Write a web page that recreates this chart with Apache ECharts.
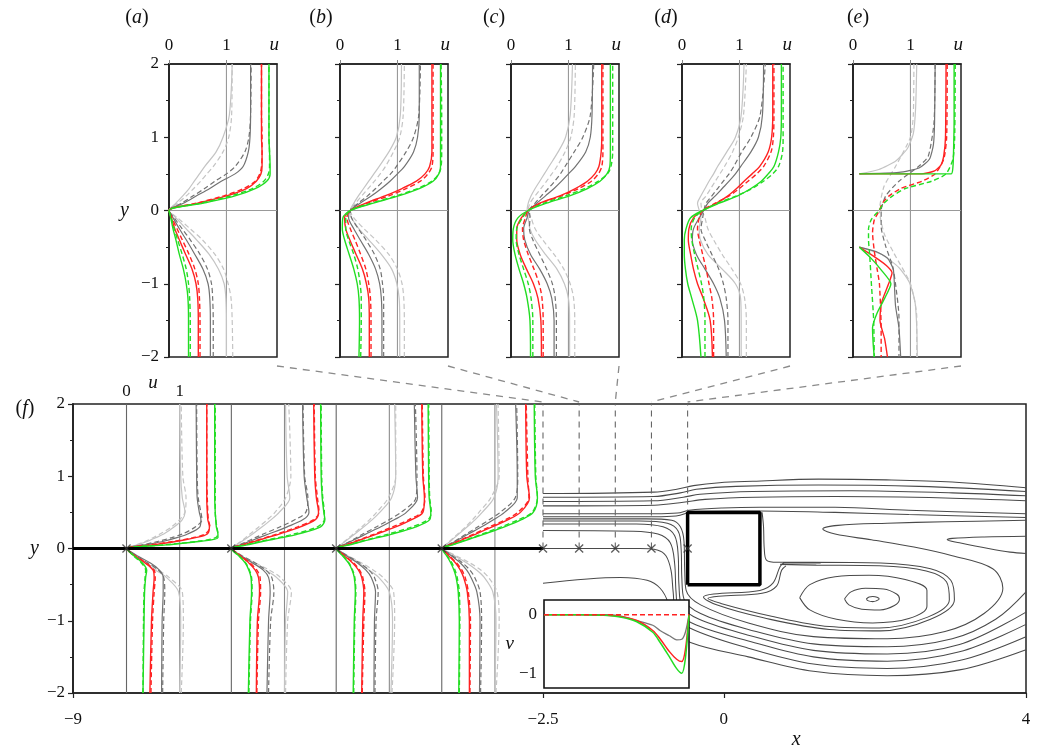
<!DOCTYPE html>
<html><head><meta charset="utf-8">
<script src="https://cdn.jsdelivr.net/npm/echarts@6/dist/echarts.min.js"></script>
<style>html,body{margin:0;padding:0;background:#fff}#c{width:1037px;height:750px}</style>
</head><body><div id="c"></div>
<script>
// ---------------- DATA ----------------
const Y_TOP = [-2,-1.5,-1.2,-1,-0.8,-0.6,-0.4,-0.25,-0.1,0,0.1,0.2,0.3,0.4,0.5,0.6,0.8,1,1.3,2];
// panel (a)
const A_LIGHT   = [1.0,1.0,0.99,0.96,0.86,0.70,0.48,0.30,0.12,0,0.12,0.24,0.35,0.44,0.53,0.62,0.82,0.94,1.05,1.1];
const A_LIGHT_D = [1.11,1.10,1.08,1.03,0.95,0.80,0.58,0.37,0.15,0,0.15,0.3,0.43,0.55,0.66,0.77,0.94,1.04,1.09,1.1];
const A_GRAY    = [0.72,0.72,0.71,0.68,0.59,0.45,0.30,0.18,0.07,0,0.25,0.48,0.71,0.91,1.15,1.29,1.38,1.41,1.42,1.42];
const A_GRAY_D  = [0.77,0.77,0.76,0.74,0.67,0.54,0.37,0.23,0.09,0,0.22,0.42,0.62,0.8,1.0,1.15,1.32,1.39,1.42,1.43];
const A_RED     = [0.51,0.51,0.50,0.47,0.40,0.29,0.18,0.10,0.04,0,0.5,1.0,1.35,1.52,1.6,1.62,1.62,1.61,1.61,1.61];
const A_RED_D   = [0.54,0.54,0.53,0.51,0.45,0.35,0.23,0.14,0.05,0,0.48,0.95,1.3,1.5,1.58,1.61,1.62,1.62,1.61,1.61];
const A_GREEN   = [0.34,0.34,0.33,0.30,0.25,0.18,0.12,0.07,0.03,0,0.6,1.15,1.5,1.7,1.76,1.76,1.75,1.74,1.74,1.74];
const A_GREEN_D = [0.37,0.37,0.36,0.34,0.30,0.23,0.15,0.09,0.04,0,0.55,1.08,1.45,1.65,1.73,1.75,1.75,1.74,1.74,1.74];
// panel (b)
const B_LIGHT   = [1.04,1.04,1.03,0.99,0.90,0.72,0.50,0.33,0.20,0.18,0.24,0.32,0.41,0.5,0.59,0.68,0.85,0.98,1.05,1.07];
const B_LIGHT_D = [1.12,1.12,1.11,1.08,1.00,0.85,0.62,0.42,0.24,0.18,0.27,0.38,0.49,0.6,0.7,0.79,0.93,1.04,1.1,1.12];
const B_GRAY    = [0.73,0.73,0.72,0.69,0.62,0.50,0.35,0.24,0.15,0.18,0.35,0.55,0.72,0.87,1.0,1.12,1.28,1.35,1.38,1.38];
const B_GRAY_D  = [0.76,0.76,0.76,0.74,0.70,0.60,0.45,0.32,0.20,0.18,0.32,0.48,0.62,0.75,0.88,0.98,1.15,1.28,1.37,1.4];
const B_RED     = [0.51,0.51,0.50,0.46,0.39,0.28,0.17,0.10,0.08,0.18,0.45,0.78,1.08,1.33,1.48,1.56,1.6,1.6,1.6,1.6];
const B_RED_D   = [0.54,0.54,0.53,0.50,0.45,0.36,0.26,0.18,0.12,0.18,0.48,0.85,1.15,1.4,1.53,1.6,1.62,1.62,1.62,1.62];
const B_GREEN   = [0.33,0.34,0.33,0.30,0.24,0.16,0.08,0.04,0.05,0.18,0.58,1.02,1.38,1.62,1.72,1.75,1.75,1.75,1.75,1.75];
const B_GREEN_D = [0.36,0.37,0.37,0.35,0.31,0.24,0.15,0.10,0.10,0.18,0.55,0.98,1.35,1.6,1.72,1.76,1.77,1.77,1.77,1.76];
// panel (c)
const C_LIGHT_  = [1.02,1.02,1.0,0.93,0.8,0.6,0.42,0.33,0.3,0.28,0.3,0.35,0.42,0.5,0.58,0.66,0.82,0.95,1.03,1.07];
const C_LIGHT_D = [1.11,1.11,1.09,1.03,0.92,0.75,0.55,0.42,0.35,0.3,0.33,0.42,0.52,0.62,0.71,0.8,0.94,1.04,1.1,1.12];
const C_GRAY_   = [0.75,0.75,0.71,0.63,0.50,0.34,0.24,0.22,0.28,0.32,0.45,0.6,0.75,0.88,1.0,1.12,1.3,1.38,1.41,1.42];
const C_GRAY_D  = [0.79,0.79,0.77,0.72,0.62,0.50,0.38,0.32,0.33,0.32,0.42,0.53,0.65,0.76,0.86,0.94,1.1,1.25,1.38,1.44];
const C_RED_    = [0.53,0.52,0.47,0.39,0.27,0.16,0.10,0.10,0.18,0.3,0.5,0.85,1.12,1.33,1.46,1.53,1.57,1.58,1.58,1.58];
const C_RED_D   = [0.56,0.56,0.54,0.49,0.40,0.30,0.22,0.20,0.25,0.3,0.52,0.88,1.18,1.4,1.52,1.58,1.6,1.6,1.6,1.6];
const C_GREEN_  = [0.34,0.33,0.28,0.22,0.14,0.07,0.03,0.04,0.12,0.3,0.62,1.02,1.33,1.55,1.67,1.72,1.73,1.73,1.73,1.73];
const C_GREEN_D = [0.38,0.38,0.35,0.30,0.22,0.14,0.09,0.10,0.20,0.3,0.58,0.95,1.28,1.52,1.68,1.74,1.77,1.77,1.77,1.77];
// panel (d)
const D_LIGHT   = [1.03,1.03,1.02,0.93,0.70,0.45,0.32,0.30,0.33,0.3,0.27,0.33,0.4,0.47,0.55,0.62,0.78,0.93,1.03,1.08];
const D_LIGHT_D = [1.12,1.12,1.09,1.02,0.87,0.70,0.55,0.45,0.4,0.35,0.33,0.42,0.5,0.58,0.66,0.74,0.88,0.98,1.07,1.12];
const D_GRAY    = [0.77,0.74,0.66,0.55,0.40,0.25,0.18,0.20,0.3,0.38,0.45,0.58,0.7,0.82,0.93,1.02,1.2,1.33,1.4,1.42];
const D_GRAY_D  = [0.80,0.80,0.77,0.72,0.64,0.52,0.40,0.33,0.36,0.38,0.42,0.52,0.62,0.72,0.82,0.9,1.04,1.2,1.36,1.45];
const D_RED     = [0.53,0.49,0.37,0.27,0.20,0.15,0.11,0.12,0.2,0.36,0.6,0.8,0.95,1.08,1.22,1.35,1.5,1.56,1.58,1.58];
const D_RED_D   = [0.55,0.55,0.52,0.47,0.42,0.36,0.30,0.27,0.3,0.36,0.58,0.82,1.0,1.15,1.3,1.42,1.55,1.59,1.6,1.6];
const D_GREEN   = [0.33,0.27,0.17,0.10,0.06,0.04,0.04,0.07,0.15,0.36,0.65,0.97,1.2,1.38,1.5,1.6,1.68,1.72,1.73,1.73];
const D_GREEN_D = [0.40,0.40,0.38,0.34,0.28,0.22,0.17,0.16,0.22,0.36,0.62,0.95,1.22,1.42,1.58,1.68,1.75,1.76,1.76,1.76];
// panel (e): [u, y] pairs
const E_LIGHT_UP = [[0.11,0.5],[0.45,0.56],[0.75,0.68],[0.95,0.85],[1.05,1.05],[1.09,1.4],[1.11,2]];
const E_LIGHT_LO = [[0.11,-0.5],[0.5,-0.6],[0.8,-0.78],[0.98,-0.98],[1.08,-1.25],[1.11,-1.6],[1.12,-2]];
const E_LIGHT_D  = [[1.06,2],[1.05,1.3],[1.0,1.0],[0.74,0.6],[0.54,0.33],[0.46,0],[0.54,-0.31],[0.71,-0.58],[1.0,-1.0],[1.11,-1.45],[1.11,-2]];
const E_GRAY_UP  = [[0.11,0.5],[0.8,0.52],[1.15,0.58],[1.33,0.7],[1.4,0.9],[1.42,1.2],[1.43,2]];
const E_GRAY_LO  = [[0.11,-0.5],[0.4,-0.56],[0.6,-0.65],[0.7,-0.8],[0.72,-1.0],[0.74,-1.3],[0.8,-1.6],[0.83,-2]];
const E_GRAY_D   = [[1.43,2],[1.41,1.2],[1.31,0.74],[1.14,0.6],[0.8,0.4],[0.57,0.2],[0.49,0],[0.49,-0.22],[0.57,-0.49],[0.69,-0.76],[0.74,-1],[0.8,-1.45],[0.8,-2]];
const E_RED_UP   = [[0.11,0.5],[1.2,0.5],[1.42,0.54],[1.53,0.62],[1.58,0.75],[1.61,1.0],[1.62,2]];
const E_RED_LO   = [[0.11,-0.5],[0.35,-0.62],[0.58,-0.75],[0.68,-0.85],[0.62,-1.0],[0.5,-1.25],[0.47,-1.5],[0.55,-1.75],[0.6,-2]];
const E_RED_D    = [[1.64,2],[1.63,1],[1.58,0.7],[1.43,0.5],[1.2,0.4],[0.83,0.3],[0.63,0.2],[0.51,0.1],[0.46,0],[0.37,-0.13],[0.34,-0.3],[0.37,-0.55],[0.42,-0.8],[0.46,-1],[0.49,-1.6],[0.49,-2]];
const E_GREEN_UP = [[0.11,0.5],[1.71,0.5],[1.74,0.6],[1.75,0.8],[1.76,1.2],[1.76,2]];
const E_GREEN_LO = [[0.11,-0.5],[0.3,-0.64],[0.5,-0.82],[0.66,-1.0],[0.55,-1.2],[0.42,-1.4],[0.34,-1.6],[0.35,-1.8],[0.37,-2]];
const E_GREEN_D  = [[1.78,2],[1.77,1],[1.74,0.7],[1.62,0.5],[1.37,0.4],[0.91,0.3],[0.69,0.2],[0.54,0.1],[0.45,0],[0.32,-0.12],[0.27,-0.25],[0.27,-0.4],[0.29,-0.6],[0.32,-1],[0.36,-1.5],[0.37,-2]];

// panel (f) profiles
const F_X0 = [-8.26,-6.81,-5.36,-3.9];
const Y_F = [-2,-1,-0.6,-0.4,-0.3,-0.2,-0.1,-0.05,0,0.05,0.1,0.15,0.2,0.3,0.4,0.5,0.7,1,2];
const F1_LIGHT   = [1.0,1.02,0.98,0.75,0.55,0.35,0.15,0.07,0,0.2,0.4,0.55,0.7,0.9,1.05,1.1,1.05,1.02,1.0];
const F1_LIGHT_D = [1.03,1.07,1.05,0.8,0.6,0.38,0.16,0.08,0,0.18,0.36,0.5,0.63,0.85,1.0,1.1,1.12,1.06,1.03];
const F1_GRAY    = [0.66,0.67,0.69,0.69,0.62,0.45,0.2,0.09,0,0.35,0.7,0.95,1.15,1.38,1.4,1.37,1.33,1.32,1.31];
const F1_GRAY_D  = [0.68,0.7,0.72,0.7,0.6,0.4,0.18,0.08,0,0.3,0.6,0.85,1.05,1.3,1.42,1.4,1.35,1.33,1.32];
const F1_RED     = [0.44,0.47,0.5,0.52,0.5,0.35,0.15,0.06,0,0.5,0.95,1.3,1.52,1.56,1.53,1.52,1.51,1.51,1.51];
const F1_RED_D   = [0.46,0.49,0.52,0.54,0.52,0.37,0.16,0.07,0,0.45,0.9,1.25,1.48,1.57,1.54,1.53,1.52,1.51,1.51];
const F1_GREEN   = [0.31,0.33,0.34,0.36,0.38,0.3,0.14,0.06,0,0.75,1.4,1.72,1.72,1.69,1.68,1.67,1.66,1.66,1.66];
const F1_GREEN_D = [0.31,0.32,0.33,0.35,0.36,0.28,0.13,0.06,0,0.7,1.35,1.68,1.72,1.7,1.68,1.67,1.67,1.67,1.67];
const F2_LIGHT   = [1.0,1.02,1.06,0.85,0.65,0.4,0.15,0.07,0,0.1,0.2,0.3,0.4,0.58,0.75,0.9,1.1,1.05,1.02];
const F2_LIGHT_D = [1.02,1.06,1.13,0.92,0.72,0.45,0.17,0.08,0,0.09,0.18,0.27,0.35,0.52,0.68,0.82,1.02,1.12,1.08];
const F2_GRAY    = [0.67,0.7,0.73,0.7,0.6,0.4,0.18,0.08,0,0.17,0.35,0.52,0.7,1.05,1.35,1.46,1.42,1.37,1.34];
const F2_GRAY_D  = [0.7,0.74,0.8,0.76,0.65,0.45,0.2,0.09,0,0.15,0.3,0.45,0.6,0.92,1.2,1.4,1.44,1.38,1.35];
const F2_RED     = [0.47,0.49,0.53,0.51,0.45,0.33,0.16,0.07,0,0.22,0.45,0.67,0.9,1.3,1.58,1.64,1.6,1.57,1.55];
const F2_RED_D   = [0.48,0.51,0.55,0.54,0.48,0.35,0.17,0.08,0,0.2,0.42,0.64,0.85,1.25,1.55,1.65,1.62,1.58,1.56];
const F2_GREEN   = [0.32,0.35,0.38,0.37,0.33,0.26,0.14,0.05,0,0.3,0.6,0.95,1.25,1.68,1.76,1.74,1.71,1.69,1.68];
const F2_GREEN_D = [0.33,0.36,0.39,0.38,0.34,0.27,0.14,0.06,0,0.27,0.55,0.88,1.18,1.62,1.75,1.75,1.72,1.7,1.69];
const F3_LIGHT   = [1.03,1.06,1.0,0.8,0.62,0.42,0.2,0.1,0,0.08,0.17,0.26,0.35,0.52,0.68,0.82,1.04,1.12,1.1];
const F3_LIGHT_D = [1.05,1.1,1.08,0.88,0.7,0.48,0.22,0.11,0,0.08,0.16,0.24,0.32,0.48,0.63,0.76,0.98,1.12,1.12];
const F3_GRAY    = [0.71,0.72,0.74,0.66,0.56,0.4,0.19,0.09,0,0.14,0.28,0.42,0.56,0.84,1.1,1.32,1.53,1.5,1.47];
const F3_GRAY_D  = [0.73,0.75,0.79,0.72,0.62,0.44,0.21,0.1,0,0.13,0.26,0.38,0.5,0.76,1.0,1.22,1.5,1.52,1.49];
const F3_RED     = [0.48,0.5,0.52,0.48,0.42,0.31,0.15,0.07,0,0.19,0.38,0.57,0.76,1.12,1.42,1.63,1.66,1.63,1.61];
const F3_RED_D   = [0.49,0.52,0.54,0.5,0.44,0.33,0.16,0.08,0,0.18,0.36,0.54,0.72,1.06,1.37,1.6,1.67,1.64,1.62];
const F3_GREEN   = [0.32,0.34,0.36,0.34,0.3,0.23,0.12,0.05,0,0.25,0.5,0.78,1.05,1.5,1.76,1.78,1.75,1.74,1.73];
const F3_GREEN_D = [0.33,0.35,0.37,0.35,0.31,0.24,0.13,0.06,0,0.23,0.47,0.73,0.98,1.43,1.73,1.79,1.76,1.75,1.74];
const F4_LIGHT   = [1.0,1.02,0.96,0.8,0.66,0.47,0.24,0.12,0,0.08,0.16,0.24,0.32,0.48,0.63,0.76,0.98,1.06,1.03];
const F4_LIGHT_D = [1.02,1.08,1.04,0.88,0.74,0.53,0.27,0.13,0,0.07,0.15,0.22,0.3,0.45,0.58,0.7,0.92,1.08,1.06];
const F4_GRAY    = [0.71,0.72,0.66,0.55,0.47,0.35,0.18,0.09,0,0.13,0.26,0.38,0.5,0.75,0.98,1.18,1.42,1.42,1.39];
const F4_GRAY_D  = [0.73,0.75,0.72,0.62,0.53,0.39,0.2,0.1,0,0.12,0.24,0.35,0.46,0.68,0.9,1.1,1.38,1.43,1.41];
const F4_RED     = [0.52,0.52,0.48,0.41,0.35,0.26,0.13,0.06,0,0.16,0.32,0.48,0.64,0.95,1.25,1.48,1.65,1.6,1.58];
const F4_RED_D   = [0.53,0.54,0.5,0.44,0.38,0.28,0.14,0.07,0,0.15,0.3,0.45,0.6,0.9,1.2,1.43,1.64,1.62,1.59];
const F4_GREEN   = [0.32,0.33,0.31,0.27,0.23,0.17,0.09,0.04,0,0.2,0.4,0.6,0.8,1.18,1.5,1.72,1.8,1.76,1.74];
const F4_GREEN_D = [0.33,0.34,0.33,0.29,0.25,0.19,0.1,0.05,0,0.19,0.38,0.57,0.76,1.12,1.45,1.7,1.8,1.77,1.75];

// plate, probe stations, square
const PLATE_X = [-9,-2.5];
const CROSS_X = [-2.5,-2.0,-1.5,-1.0,-0.5];
const SQUARE_X = [-0.5,0.5];
const SQUARE_Y = [-0.5,0.5];

// streamlines [x, y]
const SL_1 = [[-2.5,0.76],[-0.97,0.78],[-0.65,0.82],[-0.42,0.87],[-0.06,0.91],[0.4,0.93],[1.31,0.96],[2.25,0.95],[3.16,0.92],[4.18,0.84]];
const SL_2 = [[-2.5,0.71],[-0.97,0.72],[-0.6,0.77],[-0.38,0.82],[0.17,0.86],[1.31,0.88],[2.7,0.86],[4.18,0.79]];
const SL_3 = [[-2.5,0.65],[-0.97,0.66],[-0.56,0.71],[-0.33,0.75],[0.4,0.79],[1.77,0.8],[3.16,0.77],[4.18,0.73]];
const SL_4 = [[-2.5,0.59],[-0.96,0.6],[-0.56,0.64],[-0.26,0.68],[0.44,0.71],[1.54,0.72],[3.06,0.7],[4.18,0.66]];
const SL_5 = [[-2.5,0.48],[-0.96,0.48],[-0.64,0.49],[-0.48,0.53],[-0.02,0.56],[0.5,0.57],[1.54,0.57],[2.56,0.53],[4.18,0.48]];
const SL_6 = [[-2.5,0.44],[-0.96,0.44],[-0.66,0.45],[-0.54,0.48],[-0.48,0.515],[0.08,0.52],[0.5,0.52],[1.54,0.5],[2.56,0.47],[4.18,0.43]];
const SL_7 = [[-2.5,0.41],[-1.07,0.41],[-0.72,0.39],[-0.6,0.3],[-0.55,0.1],[-0.54,-0.3],[-0.52,-0.58],[-0.32,-0.78],[0.34,-1.03],[1.24,-1.22],[2.26,-1.25],[3.06,-1.15],[3.6,-0.9],[3.86,-0.55],[3.72,-0.28],[3.16,-0.1],[2.63,0.02],[2.04,0.12],[1.54,0.2],[1.37,0.27],[1.58,0.32],[2.26,0.35],[3.06,0.37],[4.18,0.39]];
const SL_8 = [[-2.5,0.38],[-1.16,0.38],[-0.78,0.35],[-0.63,0.24],[-0.59,0],[-0.58,-0.4],[-0.55,-0.7],[-0.32,-0.9],[0.34,-1.12],[1.24,-1.32],[2.26,-1.36],[3.16,-1.25],[3.76,-0.98],[4.18,-0.6]];
const SL_9 = [[-2.5,0.34],[-1.21,0.34],[-0.84,0.3],[-0.68,0.18],[-0.63,-0.1],[-0.62,-0.5],[-0.58,-0.8],[-0.34,-0.98],[0.34,-1.2],[1.24,-1.41],[2.26,-1.46],[3.26,-1.33],[4.18,-0.88]];
const SL_10 = [[-2.5,0.25],[-1.26,0.24],[-0.91,0.2],[-0.74,0.08],[-0.68,-0.2],[-0.66,-0.6],[-0.62,-0.88],[-0.38,-1.06],[0.34,-1.28],[1.24,-1.5],[2.26,-1.56],[3.26,-1.43],[4.18,-1.05]];
const SL_11 = [[-2.5,0],[-1.16,0],[-0.92,-0.02],[-0.8,-0.1],[-0.73,-0.3],[-0.7,-0.6],[-0.66,-0.9],[-0.47,-1.1],[0.34,-1.38],[1.24,-1.6],[2.26,-1.66],[3.26,-1.55],[4.18,-1.22]];
const SL_12 = [[-2.5,-0.48],[-1.43,-0.4],[-1.06,-0.44],[-0.88,-0.55],[-0.77,-0.75],[-0.7,-1.1],[-0.46,-1.3],[0.34,-1.5],[1.24,-1.7],[2.26,-1.76],[3.26,-1.68],[4.18,-1.4]];
const SL_13 = [[0.53,0.5],[0.55,0.3],[0.56,0.0],[0.59,-0.16],[0.74,-0.19],[1.23,-0.19],[2.17,-0.2],[2.86,-0.28],[3.14,-0.44],[3.19,-0.71],[2.86,-0.98],[2.17,-1.14],[1.46,-1.12],[0.55,-0.96],[-0.1,-0.78],[-0.28,-0.67],[-0.14,-0.63],[0.5,-0.58],[0.68,-0.48],[0.78,-0.25],[0.84,-0.2],[1.34,-0.2]];
const SL_14 = [[0.78,-0.22],[1.28,-0.23],[2.15,-0.24],[2.8,-0.31],[3.08,-0.46],[3.12,-0.71],[2.82,-0.95],[2.15,-1.1],[1.46,-1.08],[0.63,-0.93],[-0.04,-0.76],[-0.22,-0.69],[-0.07,-0.66],[0.53,-0.62],[0.73,-0.52],[0.8,-0.3],[0.86,-0.24]];
const SL_15 = [[4.18,0.17],[3.6,0.16],[3.16,0.14],[3.09,0.12],[3.26,0.08],[3.66,0.0],[3.96,-0.05],[4.18,-0.07]];
const EL_1 = [[1.97,-0.7],[2.01,-0.67],[2.06,-0.665],[2.12,-0.675],[2.15,-0.7],[2.11,-0.725],[2.06,-0.735],[2.0,-0.725],[1.97,-0.7]];
const EL_2 = [[1.67,-0.7],[1.76,-0.6],[1.96,-0.55],[2.21,-0.56],[2.39,-0.63],[2.43,-0.7],[2.36,-0.79],[2.16,-0.85],[1.91,-0.84],[1.73,-0.78],[1.67,-0.7]];
const EL_3 = [[1.05,-0.68],[1.19,-0.5],[1.54,-0.39],[2.01,-0.37],[2.51,-0.43],[2.81,-0.58],[2.81,-0.8],[2.56,-0.97],[2.06,-1.03],[1.56,-0.98],[1.19,-0.85],[1.05,-0.68]];

// inset: v along y = 0
const INSET_X = [-2.5,-2.0,-1.68,-1.45,-1.22,-1.0,-0.9,-0.77,-0.67,-0.6,-0.55,-0.5];
const V_GRAY  = [0,0,0,-0.02,-0.1,-0.18,-0.27,-0.36,-0.43,-0.42,-0.3,0];
const V_RED   = [0,0,-0.01,-0.03,-0.1,-0.27,-0.41,-0.63,-0.76,-0.8,-0.6,0];
const V_GREEN = [0,0,-0.01,-0.04,-0.12,-0.3,-0.47,-0.72,-0.92,-1.0,-0.75,0];
const V_DASH  = [0,0,0,0,0,0,0,0,0,0,0,0];

// ticks / ranges
const U_MAX = 1.88, U_TICKS = [0,1], U_NAME_AT = 1.83;
const Y_MIN = -2, Y_MAX = 2;
const F_XMIN = -9, F_XEDGE = 4.18;             // right frame edge (labelled "4" in the figure)
const F_XTICKS = [-9,-2.5,0,F_XEDGE];
const X_NAME_AT = 1.0;
const U_F = 0.735;                              // x-units per unit of u for the profiles in (f)
const INSET_V = [-1.25, 0.25];

// ---------------- STYLE / LAYOUT ----------------
const FONT = '"Liberation Serif","DejaVu Serif",serif';
const COL_LIGHT = '#c4c4c4', COL_GRAY = '#727272', COL_RED = '#ff2222', COL_GREEN = '#22dd22';
const STY = [[COL_LIGHT,0,1.2],[COL_LIGHT,1,1.2],[COL_GRAY,0,1.2],[COL_GRAY,1,1.2],[COL_RED,0,1.4],[COL_RED,1,1.4],[COL_GREEN,0,1.4],[COL_GREEN,1,1.4]];
const TOP_LEFT = [169,340,511,682,853];
const minus = v => String(v).replace('-', '\u2212');

const chart = echarts.init(document.getElementById('c'));
const grids = [], xAxes = [], yAxes = [], series = [];

function ln(ax, data, color, dashed, width, extra){
  return Object.assign({type:'line', xAxisIndex:ax[0], yAxisIndex:ax[1], data, symbol:'none', showSymbol:false,
    smooth:0.3, silent:true, animation:false, z:3,
    lineStyle:{color, width:width||1.2, type: dashed ? [5,3] : 'solid'}}, extra||{});
}
const tickStyle = {lineStyle:{color:'#222', width:1.2}};
const lbl = {fontFamily:FONT, fontSize:17, color:'#111'};

// top panels
for (let i=0;i<5;i++){
  grids.push({left:TOP_LEFT[i], top:64, width:108, height:293, show:true, borderColor:'#222', borderWidth:1.5, backgroundColor:'transparent'});
  xAxes.push({gridIndex:i, type:'value', position:'top', min:0, max:U_MAX,
    axisLine:{show:true, onZero:false, lineStyle:{color:'#222', width:1.5}},
    axisTick:{show:true, customValues:U_TICKS, length:4, lineStyle:{color:'#888'}},
    axisLabel:{show:true, customValues:[0,1,U_NAME_AT], margin:10, ...lbl,
      formatter:v => v===0?'0':(v===1?'1':'{u|u}'),
      rich:{u:{fontFamily:FONT, fontStyle:'italic', fontSize:19, color:'#111'}}},
    splitLine:{show:false}});
  yAxes.push({gridIndex:i, type:'value', min:Y_MIN, max:Y_MAX, interval:1,
    axisLine:{show:true, onZero:false, lineStyle:{color:'#222', width:1.8}},
    axisTick:{show:true, length:5, ...tickStyle},
    minorTick:{show:true, splitNumber:2, length:3, lineStyle:{color:'#222'}},
    axisLabel:{show:i===0, margin:10, ...lbl, formatter:minus},
    name: i===0?'y':'', nameLocation:'middle', nameRotate:0, nameGap:40,
    nameTextStyle:{fontFamily:FONT, fontStyle:'italic', fontSize:20, color:'#111'},
    splitLine:{show:false}});
  series.push(ln([i,i], [[1,Y_MIN],[1,Y_MAX]], '#999', false, 1.1, {smooth:false, z:2}));
  series.push(ln([i,i], [[0,0],[U_MAX,0]], '#999', false, 1.1, {smooth:false, z:2}));
}
const TOP_SETS = [
  [A_LIGHT,A_LIGHT_D,A_GRAY,A_GRAY_D,A_RED,A_RED_D,A_GREEN,A_GREEN_D],
  [B_LIGHT,B_LIGHT_D,B_GRAY,B_GRAY_D,B_RED,B_RED_D,B_GREEN,B_GREEN_D],
  [C_LIGHT_,C_LIGHT_D,C_GRAY_,C_GRAY_D,C_RED_,C_RED_D,C_GREEN_,C_GREEN_D],
  [D_LIGHT,D_LIGHT_D,D_GRAY,D_GRAY_D,D_RED,D_RED_D,D_GREEN,D_GREEN_D]];
TOP_SETS.forEach((set,p)=>set.forEach((u,k)=>{
  series.push(ln([p,p], Y_TOP.map((y,j)=>[u[j],y]), STY[k][0], STY[k][1], STY[k][2]));
}));
const E_SET = [[E_LIGHT_UP,0],[E_LIGHT_LO,0],[E_LIGHT_D,1],[E_GRAY_UP,2],[E_GRAY_LO,2],[E_GRAY_D,3],
  [E_RED_UP,4],[E_RED_LO,4],[E_RED_D,5],[E_GREEN_UP,6],[E_GREEN_LO,6],[E_GREEN_D,7]];
E_SET.forEach(([d,k])=>series.push(ln([4,4], d, STY[k][0], STY[k][1], STY[k][2], {smooth:0.2})));

// panel (f)
grids.push({left:73, top:404, width:953, height:295, show:true, borderColor:'#222', borderWidth:1.5});
xAxes.push({gridIndex:5, type:'value', position:'bottom', min:F_XMIN, max:F_XEDGE,
  axisLine:{show:true, onZero:false, lineStyle:{color:'#222', width:1.5}},
  axisTick:{show:true, customValues:F_XTICKS, length:5, ...tickStyle},
  axisLabel:{show:true, customValues:F_XTICKS.concat([X_NAME_AT]), margin:18, ...lbl,
    formatter:v => v===X_NAME_AT ? '{n| }\n{x|x}' : (v===F_XEDGE ? '4' : minus(v)),
    rich:{n:{fontFamily:FONT, fontSize:17, color:'#111', lineHeight:19},
          x:{fontFamily:FONT, fontStyle:'italic', fontSize:20, color:'#111', lineHeight:20}}},
  splitLine:{show:false}});
yAxes.push({gridIndex:5, type:'value', min:Y_MIN, max:Y_MAX, interval:1,
  axisLine:{show:true, onZero:false, lineStyle:{color:'#222', width:1.8}},
  axisTick:{show:true, length:5, ...tickStyle},
  minorTick:{show:true, splitNumber:2, length:3, lineStyle:{color:'#222'}},
  axisLabel:{show:true, margin:8, ...lbl, formatter:minus},
  name:'y', nameLocation:'middle', nameRotate:0, nameGap:34,
  nameTextStyle:{fontFamily:FONT, fontStyle:'italic', fontSize:20, color:'#111'},
  splitLine:{show:false}});

// inset
grids.push({left:544, top:600, width:145, height:88, show:true, borderColor:'#111', borderWidth:1.6, backgroundColor:'#fff', z:5});
xAxes.push({gridIndex:6, type:'value', min:-2.5, max:-0.5, z:7,
  axisLine:{show:false, onZero:false}, axisTick:{show:false}, axisLabel:{show:false}, splitLine:{show:false}});
yAxes.push({gridIndex:6, type:'value', min:INSET_V[0], max:INSET_V[1], interval:0.25, z:7,
  axisLine:{show:false, onZero:false}, axisTick:{show:false},
  axisLabel:{show:true, customValues:[-1,0], margin:7, ...lbl, formatter:minus},
  name:'v', nameLocation:'middle', nameRotate:0, nameGap:11,
  nameTextStyle:{fontFamily:FONT, fontStyle:'italic', fontSize:19, color:'#111'},
  splitLine:{show:false}});

// top labels of (f): 0, u, 1 for the first profile
xAxes.push({gridIndex:5, type:'value', position:'top', min:F_XMIN, max:F_XEDGE,
  axisLine:{show:false, onZero:false}, axisTick:{show:false}, splitLine:{show:false},
  axisLabel:{show:true, customValues:[F_X0[0], F_X0[0]+0.5*U_F, F_X0[0]+U_F], margin:4, ...lbl,
    formatter:v => Math.abs(v-F_X0[0])<1e-6 ? '0' : (Math.abs(v-F_X0[0]-U_F)<1e-6 ? '1' : '{u|u}'),
    rich:{u:{fontFamily:FONT, fontStyle:'italic', fontSize:19, color:'#111', padding:[0,0,8,0]}}}});

const FA = [5,5];
// streamlines
[SL_1,SL_2,SL_3,SL_4,SL_5,SL_6,SL_7,SL_8,SL_9,SL_10,SL_11,SL_12,SL_13,SL_14,SL_15,EL_1,EL_2,EL_3].forEach(d=>{
  series.push(ln(FA, d, '#4a4a4a', false, 1.05, {smooth:0.35, z:1}));
});
// probe dashed verticals
CROSS_X.forEach(cx=>series.push(ln(FA, [[cx,0],[cx,Y_MAX]], '#666', true, 1.1, {smooth:false, z:1, lineStyle:{color:'#666', width:1.1, type:[6,5]}})));
// square
series.push(ln(FA, [[SQUARE_X[0],SQUARE_Y[0]],[SQUARE_X[1],SQUARE_Y[0]],[SQUARE_X[1],SQUARE_Y[1]],[SQUARE_X[0],SQUARE_Y[1]],[SQUARE_X[0],SQUARE_Y[0]]],
  '#000', false, 3.5, {smooth:false, z:4}));
// profile reference verticals
F_X0.forEach(x0=>{
  series.push(ln(FA, [[x0,Y_MIN],[x0,Y_MAX]], '#666', false, 1.1, {smooth:false, z:2}));
  series.push(ln(FA, [[x0+U_F,Y_MIN],[x0+U_F,Y_MAX]], '#8c8c8c', false, 1.1, {smooth:false, z:2}));
});
// profiles
const F_SETS = [
  [F1_LIGHT,F1_LIGHT_D,F1_GRAY,F1_GRAY_D,F1_RED,F1_RED_D,F1_GREEN,F1_GREEN_D],
  [F2_LIGHT,F2_LIGHT_D,F2_GRAY,F2_GRAY_D,F2_RED,F2_RED_D,F2_GREEN,F2_GREEN_D],
  [F3_LIGHT,F3_LIGHT_D,F3_GRAY,F3_GRAY_D,F3_RED,F3_RED_D,F3_GREEN,F3_GREEN_D],
  [F4_LIGHT,F4_LIGHT_D,F4_GRAY,F4_GRAY_D,F4_RED,F4_RED_D,F4_GREEN,F4_GREEN_D]];
F_SETS.forEach((set,p)=>set.forEach((u,k)=>{
  series.push(ln(FA, Y_F.map((y,j)=>[F_X0[p]+U_F*u[j], y]), STY[k][0], STY[k][1], STY[k][2], {z:3}));
}));
// plate
series.push(ln(FA, [[PLATE_X[0],0],[PLATE_X[1],0]], '#000', false, 3.2, {smooth:false, z:4}));
// crosses
const XSYM = 'path://M1,0L5,4L9,0L10,1L6,5L10,9L9,10L5,6L1,10L0,9L4,5L0,1Z';
series.push({type:'scatter', xAxisIndex:5, yAxisIndex:5, symbol:XSYM, symbolSize:9, silent:true, animation:false, z:5,
  itemStyle:{color:'#333'}, data: F_X0.concat(CROSS_X).map(x=>[x,0])});

// inset curves
const IA = [6,6];
series.push(ln(IA, INSET_X.map((x,i)=>[x,V_GRAY[i]]), '#777', false, 1.3, {z:8}));
series.push(ln(IA, INSET_X.map((x,i)=>[x,V_RED[i]]), COL_RED, false, 1.5, {z:8}));
series.push(ln(IA, INSET_X.map((x,i)=>[x,V_GREEN[i]]), COL_GREEN, false, 1.5, {z:8}));
series.push(ln(IA, INSET_X.map((x,i)=>[x,V_DASH[i]]), COL_RED, true, 1.5, {z:9, smooth:false}));

chart.setOption({animation:false, backgroundColor:'#fff', grid:grids, xAxis:xAxes, yAxis:yAxes, series});

// connectors and panel letters
const g = [];
const LETTERS = ['a','b','c','d','e'];
const LETTER_X = [137,321,494,666,858];
const richP = {p:{fontFamily:FONT, fontSize:20, fill:'#111'}, i:{fontFamily:FONT, fontSize:20, fontStyle:'italic', fill:'#111'}};
for (let i=0;i<5;i++){
  const p1 = chart.convertToPixel({gridIndex:i}, [U_MAX, Y_MIN]);
  const p2 = chart.convertToPixel({gridIndex:5}, [CROSS_X[i], Y_MAX]);
  g.push({type:'line', silent:true, shape:{x1:p1[0], y1:p1[1]+9, x2:p2[0], y2:p2[1]-2},
    style:{stroke:'#8a8a8a', lineWidth:1.3, lineDash:[7,6]}});
  g.push({type:'text', silent:true, x:LETTER_X[i], y:18,
    style:{text:'{p|(}{i|'+LETTERS[i]+'}{p|)}', align:'center', verticalAlign:'middle', rich:richP}});
}
g.push({type:'text', silent:true, x:25, y:409,
  style:{text:'{p|(}{i|f}{p|)}', align:'center', verticalAlign:'middle', rich:richP}});
chart.setOption({graphic:g});
</script></body></html>
